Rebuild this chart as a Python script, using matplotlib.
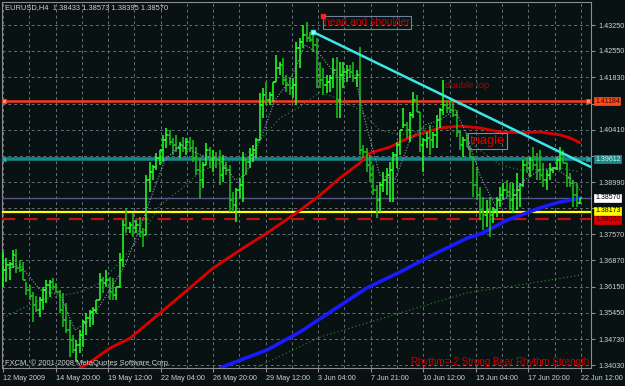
import matplotlib
matplotlib.use('Agg')
import matplotlib.pyplot as plt
import matplotlib.transforms as mtransforms
from matplotlib.collections import LineCollection

plt.rcParams['font.family'] = ['Liberation Sans', 'DejaVu Sans']

# ---------------- data ----------------
symbol = 'EURUSD,H4'
last_ohlc = ['1.38433', '1.38573', '1.38395', '1.38570']

first_open = 1.3626
high = [
    1.3710, 1.3693, 1.3682, 1.3715, 1.3718, 1.3688, 1.3682, 1.3628, 1.3620, 1.3601,
    1.3590, 1.3587, 1.3615, 1.3634, 1.3634, 1.3639, 1.3626, 1.3606, 1.3598, 1.3571,
    1.3525, 1.3484, 1.3471, 1.3498, 1.3525, 1.3544, 1.3552, 1.3560, 1.3579, 1.3653,
    1.3642, 1.3661, 1.3642, 1.3639, 1.3615, 1.3707, 1.3796, 1.3829, 1.3791, 1.3815,
    1.3796, 1.3804, 1.3775, 1.3918, 1.3954, 1.3945, 1.3978, 1.3986, 1.4027, 1.4046,
    1.4040, 1.4019, 1.4027, 1.4008, 1.4021, 1.4019, 1.4021, 1.4013, 1.3994, 1.3964,
    1.3954, 1.4005, 1.3994, 1.3986, 1.3981, 1.3986, 1.3973, 1.3954, 1.3945, 1.3872,
    1.3883, 1.3910, 1.3981, 1.3964, 1.3992, 1.4000, 1.4019, 1.4141, 1.4154, 1.4171,
    1.4143, 1.4171, 1.4244, 1.4225, 1.4236, 1.4189, 1.4181, 1.4181, 1.4279, 1.4290,
    1.4325, 1.4333, 1.4306, 1.4298, 1.4290, 1.4225, 1.4208, 1.4189, 1.4189, 1.4236,
    1.4238, 1.4225, 1.4225, 1.4217, 1.4217, 1.4225, 1.4203, 1.4265, 1.4000, 1.3992,
    1.3973, 1.3945, 1.3891, 1.3899, 1.3926, 1.3937, 1.3954, 1.3981, 1.4008, 1.4040,
    1.4100, 1.4062, 1.4089, 1.4143, 1.4135, 1.4089, 1.4019, 1.4035, 1.4054, 1.4035,
    1.4081, 1.4100, 1.4176, 1.4122, 1.4122, 1.4114, 1.4095, 1.4040, 1.4021, 1.4032,
    1.3994, 1.3967, 1.3940, 1.3886, 1.3859, 1.3851, 1.3859, 1.3832, 1.3859, 1.3886,
    1.3897, 1.3905, 1.3897, 1.3897, 1.3924, 1.3897, 1.3959, 1.3967, 1.3967, 1.3994,
    1.3978, 1.3986, 1.3951, 1.3932, 1.3951, 1.3940, 1.3967, 1.3994, 1.3986, 1.3951,
    1.3924, 1.3905, 1.3897, 1.38573]
low = [
    1.3615, 1.3628, 1.3634, 1.3666, 1.3653, 1.3655, 1.3634, 1.3593, 1.3579, 1.3520,
    1.3547, 1.3533, 1.3552, 1.3571, 1.3587, 1.3606, 1.3598, 1.3544, 1.3506, 1.3490,
    1.3425, 1.3436, 1.3411, 1.3436, 1.3452, 1.3484, 1.3506, 1.3512, 1.3544, 1.3579,
    1.3598, 1.3615, 1.3579, 1.3579, 1.3579, 1.3615, 1.3669, 1.3761, 1.3761, 1.3750,
    1.3761, 1.3750, 1.3723, 1.3756, 1.3872, 1.3905, 1.3932, 1.3945, 1.3954, 1.3992,
    1.4000, 1.3973, 1.3981, 1.3964, 1.3981, 1.3973, 1.3981, 1.3954, 1.3918, 1.3856,
    1.3883, 1.3945, 1.3937, 1.3926, 1.3937, 1.3891, 1.3899, 1.3918, 1.3818, 1.3818,
    1.3791, 1.3856, 1.3845, 1.3918, 1.3937, 1.3954, 1.3964, 1.4013, 1.4073, 1.4108,
    1.4108, 1.4116, 1.4171, 1.4189, 1.4162, 1.4143, 1.4135, 1.4127, 1.4108, 1.4208,
    1.4263, 1.4279, 1.4279, 1.4252, 1.4154, 1.4154, 1.4135, 1.4141, 1.4143, 1.4154,
    1.4073, 1.4073, 1.4154, 1.4171, 1.4181, 1.4171, 1.4157, 1.3973, 1.3964, 1.3926,
    1.3899, 1.3864, 1.3802, 1.3818, 1.3872, 1.3864, 1.3845, 1.3845, 1.3937, 1.3973,
    1.4046, 1.4019, 1.4008, 1.4073, 1.4089, 1.3981, 1.3926, 1.3992, 1.3973, 1.3992,
    1.3992, 1.4046, 1.4081, 1.4086, 1.4086, 1.4076, 1.4021, 1.3986, 1.3967, 1.3994,
    1.3967, 1.3859, 1.3851, 1.3796, 1.3769, 1.3777, 1.3750, 1.3788, 1.3804, 1.3832,
    1.3851, 1.3859, 1.3823, 1.3815, 1.3823, 1.3832, 1.3886, 1.3924, 1.3913, 1.3932,
    1.3905, 1.3905, 1.3886, 1.3878, 1.3905, 1.3924, 1.3932, 1.3932, 1.3951, 1.3886,
    1.3886, 1.3832, 1.3832, 1.38395]
close = [
    1.3661, 1.3674, 1.3677, 1.3701, 1.3666, 1.3661, 1.3634, 1.3606, 1.3590, 1.3566,
    1.3552, 1.3579, 1.3606, 1.3620, 1.3628, 1.3615, 1.3601, 1.3552, 1.3525, 1.3498,
    1.3471, 1.3444, 1.3457, 1.3484, 1.3520, 1.3531, 1.3547, 1.3552, 1.3579, 1.3634,
    1.3626, 1.3634, 1.3601, 1.3593, 1.3615, 1.3688, 1.3783, 1.3775, 1.3783, 1.3775,
    1.3783, 1.3764, 1.3756, 1.3905, 1.3926, 1.3940, 1.3964, 1.3986, 1.4013, 1.4027,
    1.4008, 1.4000, 1.3992, 1.4000, 1.3992, 1.4008, 1.3992, 1.3964, 1.3932, 1.3905,
    1.3945, 1.3986, 1.3959, 1.3964, 1.3959, 1.3918, 1.3937, 1.3932, 1.3851, 1.3837,
    1.3878, 1.3891, 1.3959, 1.3954, 1.3973, 1.3986, 1.4013, 1.4108, 1.4135, 1.4122,
    1.4135, 1.4171, 1.4208, 1.4217, 1.4176, 1.4162, 1.4154, 1.4162, 1.4263, 1.4279,
    1.4298, 1.4290, 1.4284, 1.4271, 1.4189, 1.4176, 1.4162, 1.4171, 1.4181, 1.4203,
    1.4122, 1.4189, 1.4198, 1.4203, 1.4198, 1.4181, 1.4189, 1.3986, 1.3981, 1.3945,
    1.3918, 1.3878, 1.3851, 1.3891, 1.3905, 1.3918, 1.3932, 1.3973, 1.4000, 1.4040,
    1.4054, 1.4040, 1.4081, 1.4122, 1.4089, 1.4000, 1.4013, 1.4019, 1.4013, 1.4027,
    1.4067, 1.4095, 1.4108, 1.4100, 1.4095, 1.4081, 1.4035, 1.4000, 1.4013, 1.3994,
    1.3967, 1.3891, 1.3864, 1.3823, 1.3810, 1.3823, 1.3810, 1.3823, 1.3851, 1.3864,
    1.3878, 1.3872, 1.3851, 1.3864, 1.3878, 1.3891, 1.3945, 1.3937, 1.3959, 1.3945,
    1.3932, 1.3918, 1.3905, 1.3918, 1.3932, 1.3937, 1.3959, 1.3973, 1.3951, 1.3910,
    1.3897, 1.3864, 1.38433, 1.38570]

# moving averages, sampled at (bar index, price)
ma_red_idx = [23.1, 26.1, 29.1, 32.1, 38.1, 47.1, 55.2, 63.0, 71.1, 79.2, 89.1, 95.1, 101.0,
              107.0, 110.0, 116.0, 122.0, 131.0, 137.0, 143.0, 149.0, 155.0, 161.0, 167.0, 170.0, 173.0]
ma_red = [1.3395, 1.3411, 1.3430, 1.3449, 1.3476, 1.3544, 1.3606, 1.3666, 1.3715, 1.3761, 1.3823,
          1.3864, 1.3910, 1.3951, 1.3978, 1.3994, 1.4021, 1.4046, 1.4051, 1.4046, 1.4035, 1.4033,
          1.4035, 1.4027, 1.4019, 1.4006]
ma_blue_idx = [65.1, 69.0, 79.2, 89.1, 99.0, 109.1, 119.0, 128.9, 139.1, 143.9, 151.1, 161.0, 166.1, 173.0]
ma_blue = [1.3395, 1.3409, 1.3444, 1.3493, 1.3552, 1.3612, 1.3655, 1.3702, 1.3747, 1.3761, 1.3796,
           1.3829, 1.3843, 1.3856]
ma_slow_idx = [75.6, 95.1, 119.0, 139.1, 158.9, 173.0]
ma_slow = [1.3395, 1.3479, 1.3544, 1.3599, 1.3626, 1.3647]
ma_mid_idx = [0, 11.1, 23.1, 29.1, 35.1, 41.1, 47.1, 53.1, 59.1, 65.1, 71.1, 77.1, 83.1, 89.1, 95.1,
              101.0, 107.0, 113.0, 119.0, 125.0, 131.0, 137.0, 143.0, 149.0, 155.0, 161.0, 167.0, 173.0]
ma_mid = [1.3531, 1.3580, 1.3601, 1.3626, 1.3683, 1.3750, 1.3837, 1.3878, 1.3927, 1.3951, 1.3959,
          1.4013, 1.4073, 1.4103, 1.4144, 1.4122, 1.4095, 1.4040, 1.4027, 1.4040, 1.4054, 1.4027,
          1.3986, 1.3946, 1.3932, 1.3932, 1.3937, 1.3927]
ma_fast_idx = [0, 5.1, 11.1, 17.1, 21.6, 26.1, 32.1, 36.6, 41.1, 44.1, 48.6, 53.1, 59.1, 65.1, 69.6,
               72.6, 77.1, 81.6, 86.1, 90.6, 95.1, 101.0, 105.5, 108.5, 113.0, 117.5, 122.0, 126.5,
               131.0, 135.5, 138.5, 143.0, 147.5, 152.0, 156.5, 161.0, 165.5, 170.0, 173.0]
ma_fast = [1.3661, 1.3674, 1.3607, 1.3593, 1.3498, 1.3525, 1.3607, 1.3674, 1.3775, 1.3851, 1.3959,
           1.4000, 1.3973, 1.3959, 1.3905, 1.3918, 1.4013, 1.4122, 1.4176, 1.4271, 1.4244, 1.4176,
           1.4189, 1.4067, 1.3918, 1.3905, 1.4013, 1.4054, 1.4067, 1.4095, 1.4040, 1.3918, 1.3837,
           1.3864, 1.3905, 1.3932, 1.3937, 1.3910, 1.3878]

trend_idx = [93, 141]
trend_price = [1.4306, 1.4095]

level_resist = 1.41184
level_teal = 1.39612
level_bid = 1.38570
level_yellow = 1.38173
level_red = 1.38000

y_ticks = [1.43250, 1.42550, 1.41830, 1.41120, 1.40410, 1.39700, 1.38990, 1.38290,
           1.37570, 1.36870, 1.36150, 1.35450, 1.34730, 1.34030]
y_hidden = [1.41120, 1.39700, 1.38290]   # labels covered by the price boxes
x_labels = ['12 May 2009', '14 May 20:00', '19 May 12:00', '22 May 04:00', '26 May 20:00',
            '29 May 12:00', '3 Jun 04:00', '7 Jun 21:00', '10 Jun 12:00', '15 Jun 04:00',
            '17 Jun 20:00', '22 Jun 12:00']

# ---------------- style ----------------
BG = '#081212'
GRID = '#65707e'
TXT = '#d0d0d0'

W, H = 625, 386
fig = plt.figure(figsize=(W / 100, H / 100), dpi=100)
fig.patch.set_facecolor(BG)
ax = fig.add_axes([2 / W, 18 / H, 589 / W, 366 / H])
ax.set_facecolor(BG)

n = len(close)
opens = [first_open] + close[:-1]
x0, x1 = -0.3, 176.3
y0, y1 = 1.3395, 1.43874

# grid / ticks
step = 15.75
major = [i * step for i in range(len(x_labels))]
minor = [m + step / 2 for m in major if m + step / 2 < x1]
ax.set_xticks(major)
ax.set_xticks(minor, minor=True)
ax.set_xticklabels(x_labels)
ax.set_yticks(y_ticks)
ax.set_yticklabels(['' if v in y_hidden else '%.5f' % v for v in y_ticks])
ax.set_xlim(x0, x1)
ax.set_ylim(y0, y1)
ax.grid(which='both', color=GRID, linestyle=(0, (3, 3)), linewidth=0.7, zorder=0)
ax.set_axisbelow(True)
ax.yaxis.tick_right()
ax.tick_params(axis='x', which='major', length=3, color='#909090', labelcolor=TXT,
               labelsize=5.2, pad=2)
ax.tick_params(axis='x', which='minor', length=0)
ax.tick_params(axis='y', length=3, color='#909090', labelcolor=TXT, labelsize=5.2, pad=2)
for lbl in ax.get_xticklabels():
    lbl.set_ha('left')
for sp in ax.spines.values():
    sp.set_color('#8c8c8c')
    sp.set_linewidth(0.8)

# moving averages
ax.plot(ma_slow_idx, ma_slow, color='#1f7a1f', lw=0.9, ls=(0, (1, 2)), zorder=2)
ax.plot(ma_mid_idx, ma_mid, color='#2a7a3a', lw=0.9, ls=(0, (1, 2)), zorder=2)
ax.plot(ma_blue_idx, ma_blue, color='#1a1aff', lw=2.6, zorder=4, solid_capstyle='round')
ax.plot(ma_red_idx, ma_red, color='#dd0000', lw=2.0, zorder=4, solid_capstyle='round')

# horizontal levels
ax.axhline(level_resist, color='#ff3a1a', lw=1.8, zorder=3)
ax.axhline(level_teal, color='#16878a', lw=2.6, zorder=3)
ax.axhline(level_bid, color='#55558a', lw=1.0, zorder=3)
ax.axhline(level_yellow, color='#ffff00', lw=1.6, zorder=3)
ax.axhline(level_red, color='#c01010', lw=1.6, ls=(0, (6, 4)), zorder=3)

# OHLC bars
up_segs, dn_segs = [], []
for i in range(n):
    segs = [[(i, low[i]), (i, high[i])],
            [(i - 0.6, opens[i]), (i, opens[i])],
            [(i, close[i]), (i + 0.6, close[i])]]
    if close[i] >= opens[i]:
        up_segs.extend(segs)
    else:
        dn_segs.extend(segs)
ax.add_collection(LineCollection(up_segs, colors='#22ff22', linewidths=1.15, zorder=5))
ax.add_collection(LineCollection(dn_segs, colors='#18c018', linewidths=1.15, zorder=5))

ax.plot(ma_fast_idx, ma_fast, color='#8da0b4', lw=0.8, ls=(0, (1, 1.5)), zorder=6)

# trend line (ray)
slope = (trend_price[1] - trend_price[0]) / (trend_idx[1] - trend_idx[0])
ax.plot([trend_idx[0], x1], [trend_price[0], trend_price[0] + slope * (x1 - trend_idx[0])],
        color='#3ee6e6', lw=1.8, zorder=7)
ax.plot(trend_idx[0], trend_price[0], 's', ms=2.5, mfc='#bff', mec='#3ee6e6', zorder=8)

# anchor squares on lines
for xi in (0.2, 175.5):
    ax.plot(xi, level_resist, 's', ms=3, mfc='#ff9a70', mec='#ff3a1a', mew=0.8, zorder=8,
            clip_on=False)
    ax.plot(xi, level_teal, 's', ms=3, mfc='#3aa8a8', mec='#16878a', mew=0.8, zorder=8,
            clip_on=False)

# annotations
ax.text(96.2, 1.4346, 'head and shoulder', color='#d00000', fontsize=7.5, ha='left', va='top',
        zorder=9, bbox=dict(boxstyle='square,pad=0.12', fc='none', ec='#7080a0', lw=0.8))
ax.plot(96, 1.4349, 's', ms=2.2, color='#ff2020', zorder=9)
ax.text(132.5, 1.4172, 'double top', color='#b00000', fontsize=6.8, ha='left', va='top', zorder=9)
ax.text(140.0, 1.4026, 'triagle', color='#e00000', fontsize=9.3, ha='left', va='top', zorder=9,
        bbox=dict(boxstyle='square,pad=0.15', fc='none', ec='#808890', lw=0.8))

# price boxes on the right axis
bt = mtransforms.blended_transform_factory(fig.transFigure, ax.transData)
boxes = [
    (level_resist, '#ff4a1a', '#400000', 0.0),
    (level_teal, '#1b8c8e', '#d8f0f0', 0.0),
    (level_bid, '#ffffff', '#000000', 0.0),
    (level_yellow, '#ffff00', '#000000', 1.3),
    (level_red, '#dd0000', '#400000', -1.3),
]
for price, fc, tc, dy in boxes:
    tr = bt + mtransforms.ScaledTranslation(0, dy / 100, fig.dpi_scale_trans)
    ax.text(595 / W, price, '%.5f' % price, transform=tr, ha='left', va='center',
            fontsize=5.0, color=tc, zorder=20, clip_on=False,
            bbox=dict(boxstyle='square,pad=0.08', fc=fc, ec=fc, lw=0.5))

# header & footer texts
fig.text(5 / W, 1 - 4 / H, symbol + '  ' + ' '.join(last_ohlc), color=TXT, fontsize=5.4,
         ha='left', va='top')
fig.text(5 / W, 1 - 367 / H, 'FXCM, \u00a9 2001-2008 MetaQuotes Software Corp.', color=TXT,
         fontsize=5.4, ha='left', va='bottom')
fig.text(589 / W, 1 - 367 / H, 'Rhythm=-2 Strong Bear Rhythm Strength', color='#c80000',
         fontsize=7.0, ha='right', va='bottom')

fig.savefig('out.png', dpi=100, facecolor=BG)
